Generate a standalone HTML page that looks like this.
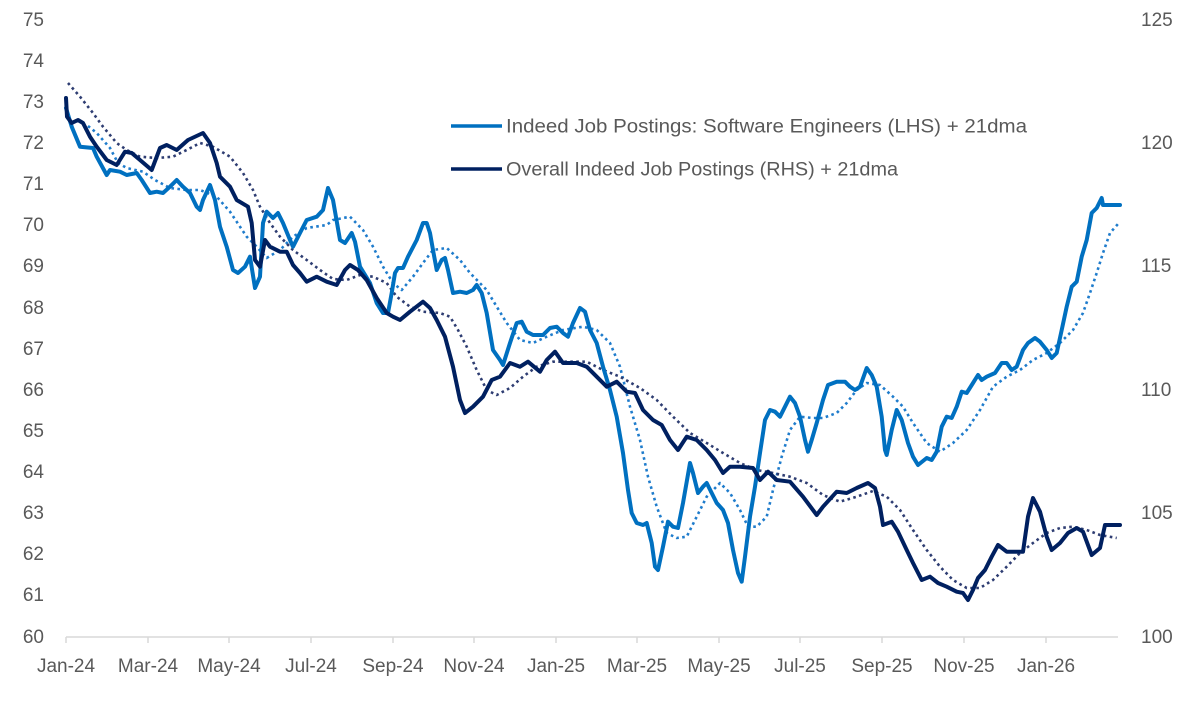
<!DOCTYPE html>
<html>
<head>
<meta charset="utf-8">
<style>
  html,body{margin:0;padding:0;background:#fff;}
  svg{display:block;}
  text{font-family:"Liberation Sans",sans-serif;fill:#595959;}
</style>
</head>
<body>
<svg width="1200" height="704" viewBox="0 0 1200 704" xmlns="http://www.w3.org/2000/svg">
  <!-- Left axis labels -->
  <g font-size="19" text-anchor="end">
    <text x="44" y="26">75</text>
    <text x="44" y="67">74</text>
    <text x="44" y="108">73</text>
    <text x="44" y="149">72</text>
    <text x="44" y="190">71</text>
    <text x="44" y="231">70</text>
    <text x="44" y="272">69</text>
    <text x="44" y="314">68</text>
    <text x="44" y="355">67</text>
    <text x="44" y="396">66</text>
    <text x="44" y="437">65</text>
    <text x="44" y="478">64</text>
    <text x="44" y="519">63</text>
    <text x="44" y="560">62</text>
    <text x="44" y="601">61</text>
    <text x="44" y="643">60</text>
  </g>
  <!-- Right axis labels -->
  <g font-size="19" text-anchor="start">
    <text x="1141" y="26">125</text>
    <text x="1141" y="149">120</text>
    <text x="1141" y="272">115</text>
    <text x="1141" y="396">110</text>
    <text x="1141" y="519">105</text>
    <text x="1141" y="643">100</text>
  </g>
  <!-- X axis -->
  <line x1="66" y1="637" x2="1118" y2="637" stroke="#d9d9d9" stroke-width="1.5"/>
  <g stroke="#d9d9d9" stroke-width="1.5">
    <line x1="66" y1="637" x2="66" y2="643"/>
    <line x1="148" y1="637" x2="148" y2="643"/>
    <line x1="229" y1="637" x2="229" y2="643"/>
    <line x1="311" y1="637" x2="311" y2="643"/>
    <line x1="393" y1="637" x2="393" y2="643"/>
    <line x1="474" y1="637" x2="474" y2="643"/>
    <line x1="556" y1="637" x2="556" y2="643"/>
    <line x1="637" y1="637" x2="637" y2="643"/>
    <line x1="719" y1="637" x2="719" y2="643"/>
    <line x1="800" y1="637" x2="800" y2="643"/>
    <line x1="882" y1="637" x2="882" y2="643"/>
    <line x1="964" y1="637" x2="964" y2="643"/>
    <line x1="1046" y1="637" x2="1046" y2="643"/>
  </g>
  <g font-size="19" text-anchor="middle">
    <text x="66" y="672">Jan-24</text>
    <text x="148" y="672">Mar-24</text>
    <text x="229" y="672">May-24</text>
    <text x="311" y="672">Jul-24</text>
    <text x="393" y="672">Sep-24</text>
    <text x="474" y="672">Nov-24</text>
    <text x="556" y="672">Jan-25</text>
    <text x="637" y="672">Mar-25</text>
    <text x="719" y="672">May-25</text>
    <text x="800" y="672">Jul-25</text>
    <text x="882" y="672">Sep-25</text>
    <text x="964" y="672">Nov-25</text>
    <text x="1046" y="672">Jan-26</text>
  </g>

  <!-- Dotted 21dma lines -->
  <polyline fill="none" stroke="#1f7ccc" stroke-width="2.6" stroke-dasharray="2.6 3.4" stroke-linejoin="round"
    points="88,126 96.7,133 110,148 118,163 126.7,168 143,171.7 155,180 170,188 186.7,190 200,190 216.7,196.7 230,211.7 240,226.7 246.7,236.7 256.7,246.7 266.7,258 280,250 293,236.7 306.7,228 326.7,225 333,220 350,216.7 363,230 373,246.7 383,266.7 393,283 401.7,290 413,276.7 423,263 433,250 446.7,248 460,260 470,273 486.7,290 496.7,306.7 506.7,323 520,340 533,343 546.7,336.7 563,330 583,326.7 596.7,330 610,343 620,366.7 630,406.7 640,440 648,476.7 656.7,506.7 666.7,533 676.7,538 686.7,536.7 696.7,516.7 706.7,496.7 720,483 730,493 740,510 748,526.7 756.7,526.7 766.7,516.7 773,490 781.7,456.7 790,430 800,416.7 813,418 823,418 836.7,413 846.7,403 856.7,390 866.7,383 880,385 893,396.7 903,406.7 913,423 926.7,443 940,451.7 953,443 966.7,430 980,410 993,386.7 1006.7,376.7 1020,370 1033,360 1046.7,353 1060,343 1073,330 1083,313 1090,293 1096.7,273 1103,253 1110,233 1120,221.7"/>
  <polyline fill="none" stroke="#2e3d72" stroke-width="2.6" stroke-dasharray="2.6 3.4" stroke-linejoin="round"
    points="68,83 80,96.7 93,113 103,126.7 116.7,143 126.7,150 140,156.7 156.7,158 173,156.7 186.7,150 200,143 213,146.7 230,156.7 243,173 253,190 260,206.7 270,223 280,236.7 293,250 306.7,260 320,270 333,279 346.7,280 360,275 373,276.7 386.7,283 396.7,296.7 410,306.7 423,311.7 440,313 450,316.7 458,330 466.7,346.7 476.7,370 486.7,390 496.7,395 510,388 523,376.7 536.7,366.7 553,361.7 570,361.7 586.7,361.7 603,370 620,376.7 640,388 656.7,400 673,416.7 690,433 706.7,443 723,453 740,463 756.7,470 773,473 790,476.7 806.7,483 823,495 840,501.7 856.7,496.7 873,491 886.7,496.7 900,510 913,530 926.7,550 940,566.7 953,580 966.7,588 980,588 993,580 1006.7,566.7 1020,553 1033,543 1046.7,533 1060,528 1073,526.7 1086.7,530 1100,535 1116.7,538"/>

  <!-- Solid lines -->
  <polyline fill="none" stroke="#0070C0" stroke-width="4" stroke-linejoin="round" stroke-linecap="round"
    points="66,108 71.7,126.7 80,146.7 93,148 96.7,156.7 106.7,175 110,170 120,171.7 126.7,175 136.7,173 141.7,180 150,193 156.7,191.7 163,193 170,186.7 176.7,180 183,186.7 190,193 196.7,206.7 200,210 203,200 210,185 215,200 220,226.7 226.7,246.7 233,270 238,273 245,266.7 250,256.7 255,288 260,276.7 263,223 266.7,211.7 273,218 278,213 283,223 290,240 293,246.7 300,233 306.7,220 316.7,216.7 323,210 328,188 333,200 340,240 345,243 351.7,233 355,241.7 360,266.7 370,283 376.7,303 383,313 388,313 391.7,293 395,273 398,268 403,268 408,256.7 416.7,240 423,223 426.7,223 430,233 433,250 436.7,270 441.7,260 445,258 448,270 453,293 460,291.7 466.7,293 473,290 476.7,285 481.7,293 486.7,313 493,350 500,360 503,365 510,343 516.7,323 521.7,321.7 526.7,331.7 533,335 543,335 550,328 556.7,326.7 563,333 568,336.7 573,323 580,308 585,311.7 590,330 596.7,343 603,366.7 610,390 616.7,416.7 623,453 628,490 631.7,513 636.7,523 643,525 646.7,523 651.7,543 655,566.7 658,570 663,546.7 668,521.7 673,526.7 678,528 683,503 690,463 693,473 698,493 703,486.7 706.7,483 711.7,493 716.7,503 723,510 728,523 733,550 738,573 741.7,581.7 745,556.7 750,516.7 755,486.7 760,453 765,420 770,410 775,411.7 780,416.7 785,406.7 790,396.7 795,403 800,416.7 805,440 808,451.7 811.7,440 816.7,423 823,400 828,385 836.7,381.7 845,381.7 850,386.7 855,390 860,386.7 866.7,368 871.7,375 876.7,386.7 881.7,416.7 885,450 886.7,455 891.7,430 896.7,410 901.7,420 908,443 913,456.7 918,465 926.7,458 931.7,460 936.7,451.7 941.7,426.7 946.7,416.7 951.7,418 956.7,406.7 961.7,391.7 966.7,393 973,383 978,375 981.7,380 986.7,376.7 995,373 1001.7,363 1006.7,363 1011.7,370 1016.7,366.7 1023,350 1028,343 1035,338 1040,341.7 1046.7,350 1051.7,358 1056.7,353 1061.7,330 1066.7,306.7 1071.7,286.7 1076.7,281.7 1081.7,256.7 1086.7,240 1091.7,213 1096.7,208 1101.7,198 1103,205 1120,205"/>
  <polyline fill="none" stroke="#002060" stroke-width="4" stroke-linejoin="round" stroke-linecap="round"
    points="66,98 67,116.7 71.7,123 78,120 83,123 90,136.7 96.7,146.7 106.7,160 116.7,165 125,151.7 131.7,153 140,160 151.7,170 160,148 166.7,145 176.7,150 188,140 203,133 210,143 216.7,163 220,176.7 230,186.7 236.7,200 248,206.7 251.7,223 255,260 260,266.7 265,240 270,246.7 280,251.7 286.7,251.7 293,265 300,273 306.7,281.7 316.7,276.7 326.7,281.7 336.7,285 345,270 350,265 358,270 366.7,280 376.7,298 386.7,313 393,316.7 400,320 410,311.7 423,301.7 430,308 436.7,320 445,336.7 453,366.7 460,400 465,413 473,406.7 483,396.7 491.7,380 500,376.7 510,363 520,366.7 528,361.7 540,371.7 546.7,360 555,351.7 563,363 576.7,363 586.7,366.7 596.7,376.7 606.7,386.7 616.7,381.7 626.7,391.7 635,393 643,410 653,420 661.7,425 670,440 678,450 686.7,436.7 696.7,440 706.7,450 715,460 723,473 730,466.7 740,466.7 753,468 760,480 768,471.7 776.7,480 790,481.7 803,496.7 816.7,515 823,506.7 836.7,491.7 846.7,493 856.7,488 868,483 875,488 880,506.7 883,525 891.7,521.7 898,531.7 906.7,550 913,563 921.7,580 930,576.7 938,583 946.7,586.7 956.7,591.7 963,593 968,600 973,590 978,578 985,570 991.7,556.7 998,545 1006.7,551.7 1023,551.7 1028,516.7 1033,498 1040,511.7 1046.7,536.7 1051.7,550 1060,543 1068,533 1076.7,528 1083,531.7 1091.7,555 1100,548 1105,525 1120,525"/>

  <!-- Legend -->
  <line x1="451" y1="126" x2="502" y2="126" stroke="#0070C0" stroke-width="3.5"/>
  <text x="506" y="132.5" font-size="19" textLength="521" lengthAdjust="spacingAndGlyphs">Indeed Job Postings: Software Engineers (LHS) + 21dma</text>
  <line x1="451" y1="169" x2="502" y2="169" stroke="#002060" stroke-width="3.5"/>
  <text x="506" y="175.5" font-size="19" textLength="392" lengthAdjust="spacingAndGlyphs">Overall Indeed Job Postings (RHS) + 21dma</text>
</svg>
</body>
</html>
